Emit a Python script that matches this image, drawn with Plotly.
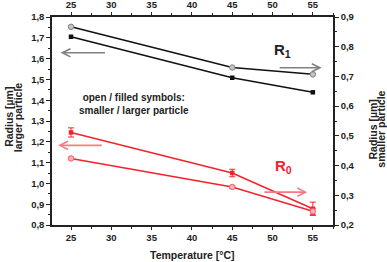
import plotly.graph_objects as go

temps = [25, 45, 55]
r1_large = [1.705, 1.508, 1.438]        # left axis, filled black squares
r1_small = [0.867, 0.730, 0.707]        # right axis, open grey circles
r0_large = [1.245, 1.050, 0.878]        # left axis, filled red squares
r0_large_err = [0.022, 0.018, 0.032]
r0_small = [0.424, 0.328, 0.246]        # right axis, open red circles
r0_small_err = [0.004, 0.004, 0.010]

x_ticks = [25, 30, 35, 40, 45, 50, 55]

BLACK = "#111111"
RED = "#f5222d"
FONT = "Liberation Sans"

fig = go.Figure()
fig.add_trace(go.Scatter(x=temps, y=r1_large, mode="lines+markers",
                         line=dict(color=BLACK, width=1.5),
                         marker=dict(symbol="square", size=4.5, color=BLACK),
                         yaxis="y", showlegend=False))
fig.add_trace(go.Scatter(x=temps, y=r1_small, mode="lines+markers",
                         line=dict(color=BLACK, width=1.5),
                         marker=dict(symbol="circle", size=5.5, color="#c4c4c4",
                                     line=dict(color="#808080", width=1)),
                         yaxis="y2", showlegend=False))
fig.add_trace(go.Scatter(x=temps, y=r0_large, mode="lines+markers",
                         line=dict(color=RED, width=1.5),
                         marker=dict(symbol="square", size=4.5, color=RED),
                         error_y=dict(type="data", array=r0_large_err, color=RED,
                                      thickness=1, width=3),
                         yaxis="y", showlegend=False))
fig.add_trace(go.Scatter(x=temps, y=r0_small, mode="lines+markers",
                         line=dict(color=RED, width=1.5),
                         marker=dict(symbol="circle", size=5.5, color="#f8b0b8",
                                     line=dict(color="#f06070", width=1)),
                         error_y=dict(type="data", array=r0_small_err, color=RED,
                                      thickness=1, width=3),
                         yaxis="y2", showlegend=False))
# invisible trace to activate top axis
fig.add_trace(go.Scatter(x=[25], y=[1.0], xaxis="x2", yaxis="y", mode="markers",
                         marker=dict(opacity=0), showlegend=False, hoverinfo="skip"))

axfont = dict(family=FONT, size=9.5, color="#222222", weight="bold")
common = dict(showgrid=False, zeroline=False, showline=True, linecolor="#222222",
              linewidth=1.5, ticks="outside", tickwidth=1.2,
              tickcolor="#222222", tickfont=axfont, automargin=False)
minor_x = dict(ticks="outside", ticklen=2, dtick=2.5, tickcolor="#222222")
minor_y = dict(ticks="outside", ticklen=2, dtick=0.05, tickcolor="#222222")

xr = [22.64, 57.5]
fig.update_layout(
    width=387, height=262,
    margin=dict(l=52, r=54, t=17, b=37, autoexpand=False),
    paper_bgcolor="white", plot_bgcolor="white",
    separators=",.",
    font=dict(family=FONT),
    xaxis=dict(range=xr, tickvals=x_ticks, ticklen=3, minor=minor_x, **common),
    xaxis2=dict(range=xr, tickvals=x_ticks, overlaying="x", side="top", ticklen=3,
                anchor="y", minor=minor_x, **common),
    yaxis=dict(range=[0.8, 1.8], dtick=0.1, tickformat=".1f", ticklen=4,
               minor=minor_y, **common),
    yaxis2=dict(range=[0.2, 0.9], dtick=0.1, tickformat=".1f", overlaying="y",
                side="right", anchor="x", ticklen=4, minor=minor_y, **common),
)

tfont = dict(family=FONT, size=10.5, color="#222222")
ann = []
ann.append(dict(text="<b>Temperature [°C]</b>", xref="paper", yref="paper",
                x=0.5, y=-0.144, yanchor="middle", showarrow=False, font=tfont))
ann.append(dict(text="<b>Radius [µm]</b>", xref="paper", yref="paper",
                x=-0.153, y=0.52, xanchor="center", yanchor="middle",
                textangle=-90, showarrow=False, font=tfont))
ann.append(dict(text="<b>larger particle</b>", xref="paper", yref="paper",
                x=-0.123, y=0.52, xanchor="center", yanchor="middle",
                textangle=-90, showarrow=False, font=tfont))
ann.append(dict(text="<b>Radius [µm]</b>", xref="paper", yref="paper",
                x=1.143, y=0.46, xanchor="center", yanchor="middle",
                textangle=-90, showarrow=False, font=tfont))
ann.append(dict(text="<b>smaller particle</b>", xref="paper", yref="paper",
                x=1.172, y=0.46, xanchor="center", yanchor="middle",
                textangle=-90, showarrow=False, font=tfont))
ann.append(dict(text="<b>open / filled symbols:<br>smaller / larger particle</b>",
                xref="x", yref="y", x=32.8, y=1.38, showarrow=False,
                font=dict(family=FONT, size=10, color="#222222")))
ann.append(dict(text="<b>R<sub>1</sub></b>", xref="x", yref="y", x=49.9, y=1.64,
                xanchor="left", showarrow=False,
                font=dict(family=FONT, size=15, color="#222222")))
ann.append(dict(text="<b>R<sub>0</sub></b>", xref="x", yref="y", x=50.1, y=1.08,
                xanchor="left", showarrow=False,
                font=dict(family=FONT, size=15, color=RED)))


def arrow(x0, x1, y, color):
    return dict(x=x1, y=y, ax=x0, ay=y, xref="x", yref="y", axref="x", ayref="y",
                showarrow=True, arrowhead=5, arrowsize=1.0, arrowwidth=1.6,
                arrowcolor=color, text="")


ann.append(arrow(29.4, 23.7, 1.628, "#808080"))
ann.append(arrow(50.7, 56.1, 1.556, "#808080"))
ann.append(arrow(29.0, 23.4, 1.183, "#f47a84"))
ann.append(arrow(48.8, 54.3, 0.958, "#f47a84"))
fig.update_layout(annotations=ann)

fig.write_html("out.html",
               config={"displayModeBar": False},
               post_script="document.body.style.margin='0';"
                           "document.body.style.padding='0';"
                           "document.documentElement.style.margin='0';")
